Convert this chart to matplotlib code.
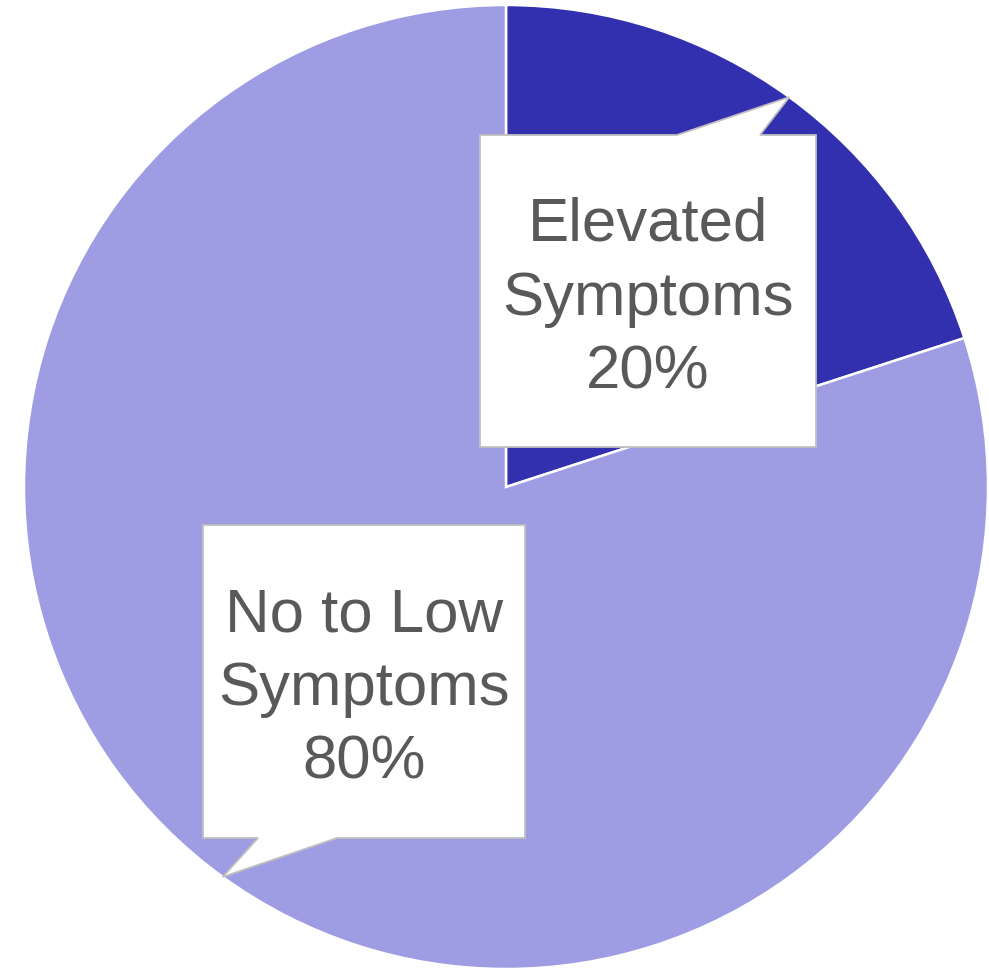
import numpy as np
import matplotlib.pyplot as plt
from matplotlib.patches import Polygon

labels = ["Elevated\nSymptoms\n20%", "No to Low\nSymptoms\n80%"]
values = [20, 80]
colors = ["#3330B0", "#9E9CE3"]

W, H = 989, 969
cx, cy, r = 506, H - 487, 482

fig = plt.figure(figsize=(W / 100, H / 100), dpi=100)
ax = fig.add_axes([0, 0, 1, 1])

wedges, _ = ax.pie(values, colors=colors, startangle=90, counterclock=False,
                   center=(cx, cy), radius=r, frame=True,
                   wedgeprops=dict(edgecolor="white", linewidth=1.8))
ax.set_xlim(0, W)
ax.set_ylim(0, H)
ax.set_aspect("equal")
ax.axis("off")

# callout boxes: (left, top, right, bottom) in pixels, tail base on edge
boxes = [
    dict(box=(480, 135, 816, 447), side="top", base=(677, 760)),
    dict(box=(203, 525, 525, 838), side="bottom", base=(258, 337)),
]

for w, lab, b in zip(wedges, labels, boxes):
    mid = np.deg2rad((w.theta1 + w.theta2) / 2)
    tip = (cx + r * np.cos(mid), cy + r * np.sin(mid))
    x0, t, x1, btm = b["box"]
    yt, yb = H - t, H - btm
    a0, a1 = b["base"]
    if b["side"] == "top":
        pts = [(x0, yt), (a0, yt), tip, (a1, yt), (x1, yt), (x1, yb), (x0, yb)]
    else:
        pts = [(x0, yt), (x1, yt), (x1, yb), (a1, yb), tip, (a0, yb), (x0, yb)]
    ax.add_patch(Polygon(pts, closed=True, facecolor="white",
                         edgecolor="#BFBFBF", linewidth=1.3, zorder=3))
    ax.text((x0 + x1) / 2, (yt + yb) / 2 - 8, lab, ha="center", va="center",
            fontsize=44.5, color="#595959", family="Liberation Sans",
            linespacing=1.38, zorder=4)

fig.savefig("out.png", dpi=100)
